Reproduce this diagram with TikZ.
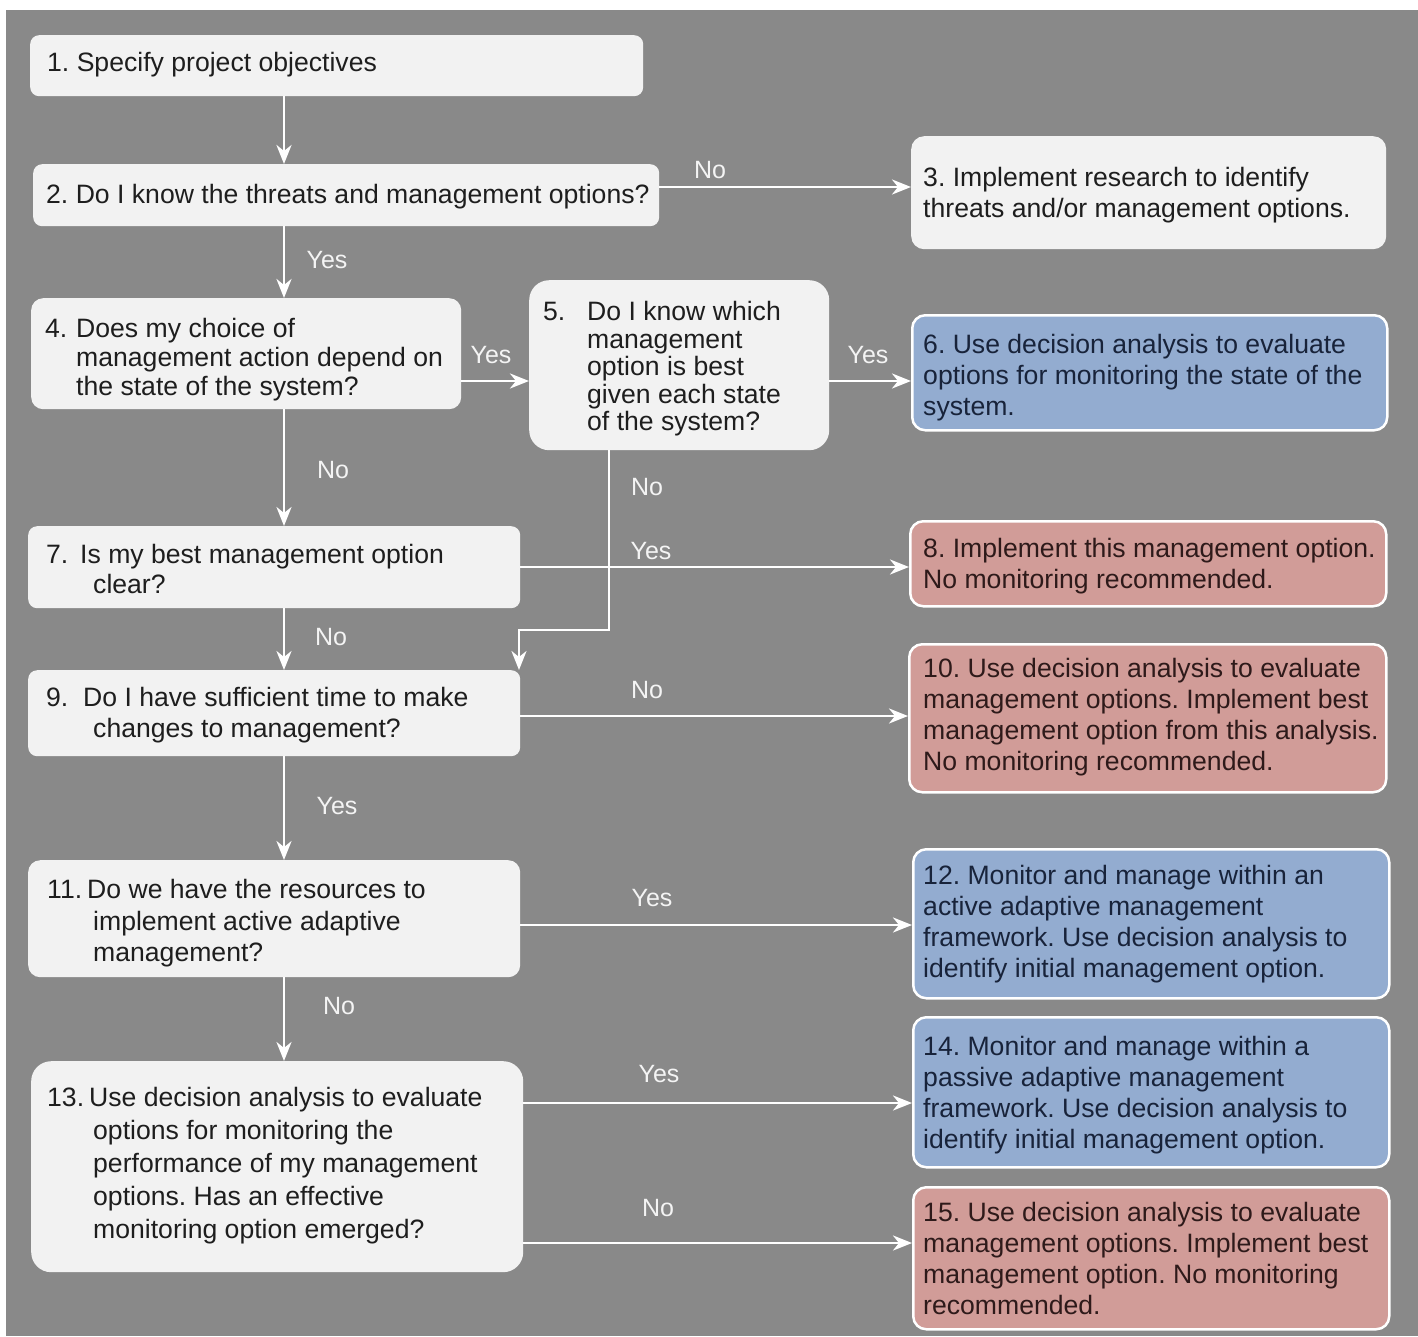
\documentclass[tikz,border=0pt]{standalone}
\usepackage{fontspec}
\setmainfont{Liberation Sans}
\usetikzlibrary{arrows.meta}
\definecolor{bgcol}{HTML}{898989}
\definecolor{boxfill}{HTML}{F2F2F2}
\definecolor{bluefill}{HTML}{93ACD0}
\definecolor{redfill}{HTML}{D19C98}
\definecolor{txtdark}{HTML}{1E1E1E}
\definecolor{bluetxt}{HTML}{18233A}
\definecolor{redtxt}{HTML}{2E1A1A}
\definecolor{lblcol}{HTML}{F4F4F4}
\newcommand\lnstrut{\rule{0pt}{21pt}}
\frenchspacing
\begin{document}
\begin{tikzpicture}[x=1pt,y=-1pt,
  box/.style={fill=boxfill, draw=none, rounded corners=9pt, anchor=north west, inner sep=0pt},
  bigbox/.style={box, rounded corners=20pt},
  bluebox/.style={box, fill=bluefill, draw=white, line width=2.5pt, rounded corners=13pt},
  redbox/.style={box, fill=redfill, draw=white, line width=2.5pt, rounded corners=13pt},
  txt/.style={anchor=north west, align=left, inner sep=0pt, text=txtdark, font=\fontsize{26.6pt}{31pt}\selectfont\frenchspacing},
  btxt/.style={txt, text=bluetxt},
  rtxt/.style={txt, text=redtxt},
  lbl/.style={text=lblcol, inner sep=0pt, font=\fontsize{25pt}{30pt}\selectfont},
  conn/.style={draw=white, line width=2.8pt, -{Stealth[length=19pt, width=15pt, inset=6pt]}}]
\useasboundingbox (0,0) rectangle (1418,1336);
\fill[white] (0,0) rectangle (1418,1336);
\fill[bgcol] (6,10) rectangle (1418,1336);

% boxes
\node[box, minimum width=613pt, minimum height=61pt] (n1) at (30,35) {};
\node[box, minimum width=626pt, minimum height=62pt] (n2) at (33,164) {};
\node[box, rounded corners=13pt, minimum width=475pt, minimum height=113pt] (n3) at (911,136) {};
\node[box, rounded corners=12pt, minimum width=430pt, minimum height=111pt] (n4) at (31,298) {};
\node[bigbox, minimum width=300pt, minimum height=170pt] (n5) at (529,280) {};
\node[bluebox, minimum width=475pt, minimum height=115pt] (n6) at (911,314) {};
\node[box, minimum width=492pt, minimum height=82pt] (n7) at (28,526) {};
\node[redbox, minimum width=476pt, minimum height=85pt] (n8) at (909,520) {};
\node[box, minimum width=492pt, minimum height=86pt] (n9) at (28,670) {};
\node[redbox, minimum width=477pt, minimum height=148pt] (n10) at (908,643) {};
\node[box, rounded corners=12pt, minimum width=492pt, minimum height=117pt] (n11) at (28,860) {};
\node[bluebox, minimum width=476pt, minimum height=149pt] (n12) at (912,848) {};
\node[bigbox, minimum width=492pt, minimum height=211pt] (n13) at (31,1061) {};
\node[bluebox, minimum width=476pt, minimum height=150pt] (n14) at (912,1016) {};
\node[redbox, minimum width=476pt, minimum height=142pt] (n15) at (912,1186) {};

% texts
\node[txt] (t1) at (47,50.5) {\lnstrut 1. Specify project objectives};
\node[txt] (t2) at (46,182.5) {\lnstrut 2. Do I know the threats and management options?};
\node[txt] (t3) at (923,165) {\lnstrut 3. Implement research to identify\\threats and/or management options.};
\node[txt, font=\fontsize{26.6pt}{29pt}\selectfont\frenchspacing] (t4) at (45,316) {\lnstrut\makebox[31pt][l]{4.}Does my choice of\\\hspace*{31pt}management action depend on\\\hspace*{31pt}the state of the system?};
\node[txt, font=\fontsize{26.6pt}{27.5pt}\selectfont\frenchspacing] (t5) at (543,299.5) {\lnstrut\makebox[44pt][l]{5.}Do I know which\\\hspace*{44pt}management\\\hspace*{44pt}option is best\\\hspace*{44pt}given each state\\\hspace*{44pt}of the system?};
\node[btxt] (t6) at (923,332) {\lnstrut 6. Use decision analysis to evaluate\\options for monitoring the state of the\\system.};
\node[txt, font=\fontsize{26.6pt}{30pt}\selectfont\frenchspacing] (t7) at (46,542.5) {\lnstrut\makebox[34pt][l]{7.}Is my best management option\\\hspace*{47pt}clear?};
\node[rtxt] (t8) at (923,536.5) {\lnstrut 8. Implement this management option.\\No monitoring recommended.};
\node[txt] (t9) at (46,685.5) {\lnstrut\makebox[37pt][l]{9.}Do I have sufficient time to make\\\hspace*{47pt}changes to management?};
\node[rtxt] (t10) at (923,656.5) {\lnstrut 10. Use decision analysis to evaluate\\management options. Implement best\\management option from this analysis.\\No monitoring recommended.};
\node[txt, font=\fontsize{26.6pt}{31.5pt}\selectfont\frenchspacing] (t11) at (47,877.5) {\lnstrut\makebox[40pt][l]{11.}Do we have the resources to\\\hspace*{46pt}implement active adaptive\\\hspace*{46pt}management?};
\node[btxt] (t12) at (923,863.5) {\lnstrut 12. Monitor and manage within an\\active adaptive management\\framework. Use decision analysis to\\identify initial management option.};
\node[txt, font=\fontsize{26.6pt}{33pt}\selectfont\frenchspacing] (t13) at (47,1085.5) {\lnstrut\makebox[42pt][l]{13.}Use decision analysis to evaluate\\\hspace*{46pt}options for monitoring the\\\hspace*{46pt}performance of my management\\\hspace*{46pt}options. Has an effective\\\hspace*{46pt}monitoring option emerged?};
\node[btxt] (t14) at (923,1034.5) {\lnstrut 14. Monitor and manage within a\\passive adaptive management\\framework. Use decision analysis to\\identify initial management option.};
\node[rtxt] (t15) at (923,1200.5) {\lnstrut 15. Use decision analysis to evaluate\\management options. Implement best\\management option. No monitoring\\recommended.};

% guide coordinates
\coordinate (spine) at (284,0);
\coordinate (c5) at (609,0);
\coordinate (c9) at (519,0);
\coordinate (elb) at (609,630);
\coordinate (r23) at (0,187);
\coordinate (r45) at (0,381);
\coordinate (r78) at (0,567);
\coordinate (r910) at (0,716);
\coordinate (r1112) at (0,925);
\coordinate (r1314) at (0,1103);
\coordinate (r1315) at (0,1243);

% connectors
\draw[conn] (n1.south -| spine) -- (n2.north -| spine);
\draw[conn] (n2.south -| spine) -- (n4.north -| spine);
\draw[conn] (n2.east |- r23) -- (n3.west |- r23);
\draw[conn] (n4.east |- r45) -- (n5.west |- r45);
\draw[conn] (n5.east |- r45) -- (n6.west |- r45);
\draw[conn] (n4.south -| spine) -- (n7.north -| spine);
\draw[conn] (n5.south -| c5) -- (elb) -| (n9.north -| c9);
\draw[conn] (n7.east |- r78) -- (n8.west |- r78);
\draw[conn] (n7.south -| spine) -- (n9.north -| spine);
\draw[conn] (n9.east |- r910) -- (n10.west |- r910);
\draw[conn] (n9.south -| spine) -- (n11.north -| spine);
\draw[conn] (n11.east |- r1112) -- (n12.west |- r1112);
\draw[conn] (n11.south -| spine) -- (n13.north -| spine);
\draw[conn] (n13.east |- r1314) -- (n14.west |- r1314);
\draw[conn] (n13.east |- r1315) -- (n15.west |- r1315);

% labels
\node[lbl] (l23) at (710,170) {No};
\node[lbl] (l24) at (327,260) {Yes};
\node[lbl] (l45) at (491,355) {Yes};
\node[lbl] (l56) at (868,355) {Yes};
\node[lbl] (l47) at (333,470) {No};
\node[lbl] (l59) at (647,487) {No};
\node[lbl] (l78) at (651,551) {Yes};
\node[lbl] (l79) at (331,637) {No};
\node[lbl] (l910) at (647,690) {No};
\node[lbl] (l911) at (337,806) {Yes};
\node[lbl] (l1112) at (652,898) {Yes};
\node[lbl] (l1113) at (339,1006) {No};
\node[lbl] (l1314) at (659,1074) {Yes};
\node[lbl] (l1315) at (658,1208) {No};
\end{tikzpicture}
\end{document}
